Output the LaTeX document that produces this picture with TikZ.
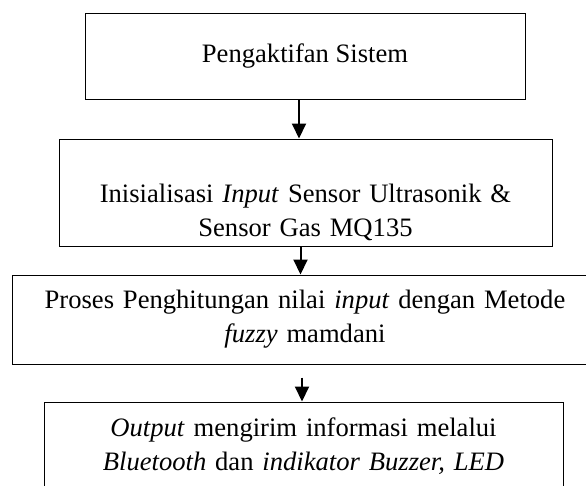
\documentclass[tikz,border=0pt]{standalone}
\usepackage{fontspec}
\setmainfont{Liberation Serif}
\usetikzlibrary{arrows.meta,positioning}

\begin{document}
\begin{tikzpicture}[x=1pt,y=-1pt,>={Triangle[width=14pt,length=15pt]},every node/.style={font=\fontsize{26.6}{34}\selectfont},box/.style={draw,line width=1pt,align=center},flow/.style={->,line width=2pt}]
\useasboundingbox (0,0) rectangle (586,485);
\node[box,minimum width=440pt,minimum height=86pt](aktif) at (305,56){Pengaktifan Sistem};
\node[box,text width=480pt,minimum width=493pt,minimum height=107pt](init) at (305.5,192.5){\rule{0pt}{58pt}Inisialisasi \textit{Input} Sensor Ultrasonik \&\\Sensor Gas MQ135};
\node[box,text width=570pt,minimum width=586pt,minimum height=89pt](proses) at (305,319.5){Proses Penghitungan nilai \textit{input} dengan Metode\\\textit{fuzzy} mamdani};
\node[box,text width=500pt,minimum width=519pt,minimum height=88pt](output) at (303.5,446){\textit{Output} mengirim informasi melalui\\\textit{Bluetooth} dan \textit{indikator Buzzer, LED}};
\draw[flow]([xshift=-6pt]aktif.south)--([xshift=-6pt]aktif.south|-init.north);
\draw[flow]([xshift=-5pt]init.south)--([xshift=-5pt]init.south|-proses.north);
\draw[flow,shorten <=13pt]([xshift=-3pt]proses.south)--([xshift=-3pt]proses.south|-output.north);
\end{tikzpicture}
\end{document}
